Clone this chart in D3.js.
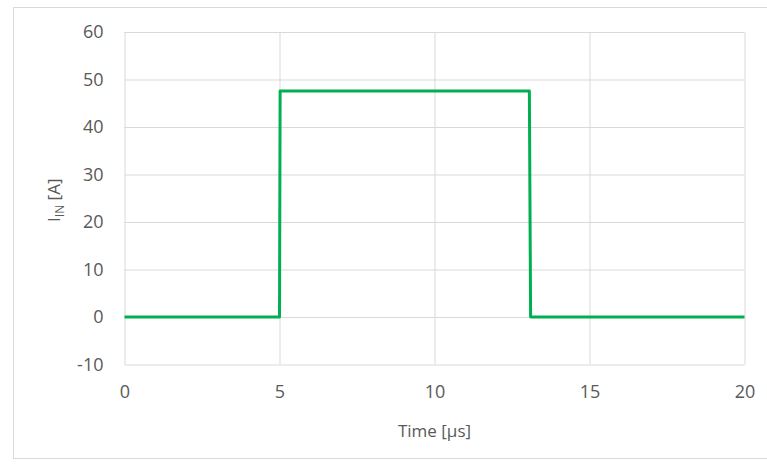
<!DOCTYPE html>
<html>
<head>
<meta charset="utf-8">
<script src="https://cdn.jsdelivr.net/npm/d3@7"></script>
<style>
  html, body { margin: 0; padding: 0; background: #fff; }
  svg { display: block; }
  text { font-family: "Open Sans", "Liberation Sans", sans-serif; fill: #595959; }
</style>
</head>
<body>
<svg id="chart" width="767" height="466"></svg>
<script>
// Input current pulse: time in microseconds, current in amperes
const timeUs = [0, 5.0, 5.02, 13.06, 13.1, 20];
const currentA = [0, 0, 47.6, 47.6, 0, 0];
const xTicks = [0, 5, 10, 15, 20];
const yTicks = [-10, 0, 10, 20, 30, 40, 50, 60];

const svg = d3.select("#chart");
const W = 767, H = 466;
const plot = { left: 124.5, right: 744.5, top: 32, bottom: 364.5 };

const x = d3.scaleLinear().domain([0, 20]).range([plot.left, plot.right]);
const y = d3.scaleLinear().domain([-10, 60]).range([plot.bottom, plot.top]);

// outer chart frame
svg.append("rect")
  .attr("x", 13.5).attr("y", 7.5)
  .attr("width", W).attr("height", 451)
  .attr("fill", "#fff").attr("stroke", "#d9d9d9").attr("stroke-width", 1);

// gridlines and tick labels via axes (plain hyphen for negatives)
const fmt = d => String(d);
const gx = svg.append("g").attr("transform", `translate(0,${plot.bottom})`)
  .call(d3.axisBottom(x).tickValues(xTicks).tickSize(-(plot.bottom - plot.top)).tickFormat(fmt).tickPadding(21));
const gy = svg.append("g").attr("transform", `translate(${plot.left},0)`)
  .call(d3.axisLeft(y).tickValues(yTicks).tickSize(-(plot.right - plot.left)).tickFormat(fmt).tickPadding(21));

[gx, gy].forEach(g => {
  g.select(".domain").remove();
  g.selectAll(".tick line").attr("stroke", "#d9d9d9").attr("stroke-width", 1);
  g.selectAll(".tick text").attr("font-size", 18).attr("fill", "#595959")
    .style("font-family", '"Open Sans", "Liberation Sans", sans-serif');
});

// data line
const line = d3.line().x((d, i) => x(timeUs[i])).y(d => y(d));
svg.append("path")
  .datum(currentA)
  .attr("d", line)
  .attr("fill", "none")
  .attr("stroke", "#00b050")
  .attr("stroke-width", 3)
  .attr("stroke-linejoin", "round");

// axis titles
svg.append("text")
  .attr("x", (plot.left + plot.right) / 2).attr("y", 437)
  .attr("text-anchor", "middle").attr("font-size", 17)
  .text("Time [µs]");

const yt = svg.append("text")
  .attr("transform", `translate(60,${(plot.top + plot.bottom) / 2 + 2}) rotate(-90)`)
  .attr("text-anchor", "middle").attr("font-size", 17);
yt.append("tspan").text("I");
yt.append("tspan").attr("font-size", 12).attr("dy", 4).text("IN");
yt.append("tspan").attr("dy", -4).text(" [A]");
</script>
</body>
</html>
